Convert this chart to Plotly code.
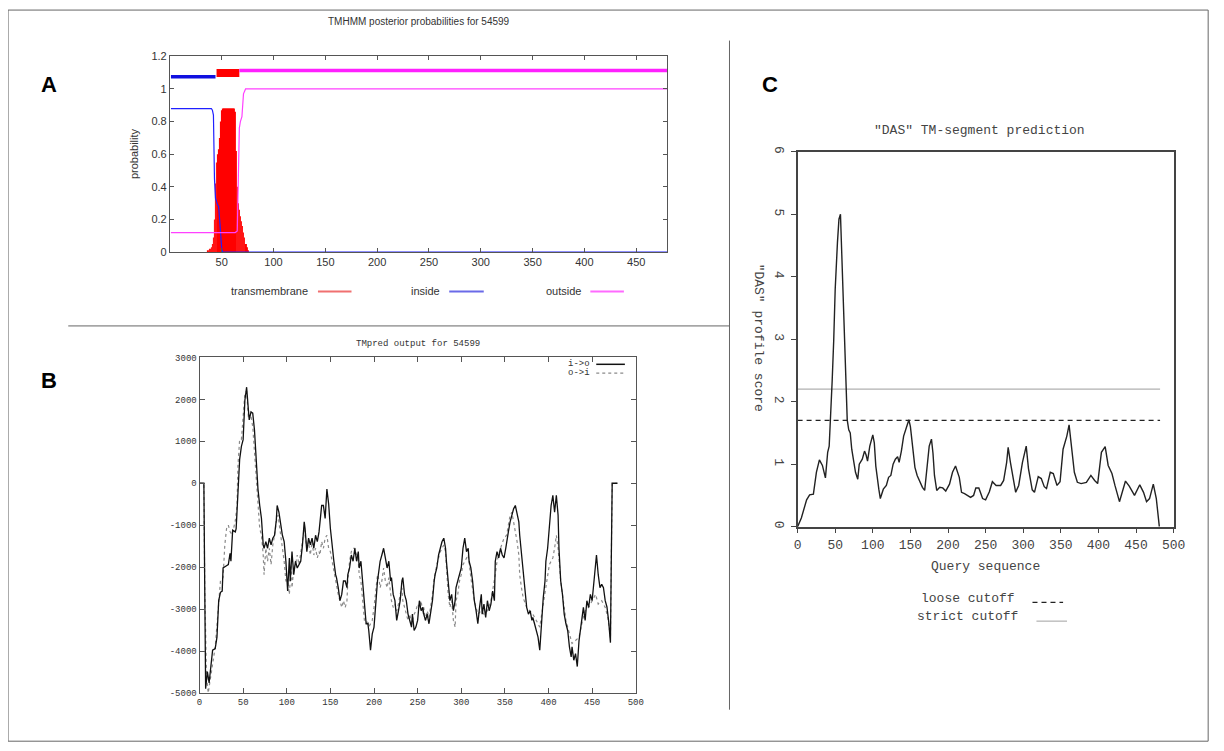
import plotly.graph_objects as go

# Figure size in pixels, used to place panels in paper coordinates
W, H = 1224, 751
OFF = 8


def px_x(p):
    return (p - OFF) / W


def px_y(p):
    return 1 - (p - OFF) / H


# ---------------- Panel A: TMHMM posterior probabilities ----------------
# Transmembrane probability per residue (drawn as impulses)
tm_res = [37, 38, 39, 40, 41, 42, 43, 44, 45, 46,
          47, 48, 49, 50, 51, 52, 53, 54, 55, 56,
          57, 58, 59, 60, 61, 62, 63, 64, 65, 66,
          67, 68, 69, 70, 71, 72, 73, 74, 75]
tm_prob = [0.01, 0.02, 0.02, 0.03, 0.05, 0.09, 0.2, 0.42, 0.55, 0.6,
           0.63, 0.7, 0.8, 0.87, 0.88, 0.88, 0.88, 0.88, 0.88, 0.88,
           0.88, 0.88, 0.88, 0.88, 0.88, 0.88, 0.86, 0.62, 0.4, 0.3,
           0.26, 0.22, 0.19, 0.16, 0.12, 0.09, 0.05, 0.03, 0.01]
# Inside probability
inside_x = [1, 40, 41, 42, 43, 44, 46, 47, 48, 49, 50, 51, 480]
inside_p = [0.88, 0.88, 0.87, 0.84, 0.45, 0.33, 0.29, 0.28, 0.2, 0.08, 0.02, 0, 0]
# Outside probability
outside_x = [1, 63, 65, 66, 67, 68, 69.5, 71, 73, 480]
outside_p = [0.12, 0.12, 0.13, 0.4, 0.76, 0.8, 0.83, 0.97, 1.0, 1.0]
# Predicted topology segments shown above the curves
topo_start = [1, 45, 67]
topo_end = [44, 67, 480]
topo_type = ["inside", "TMhelix", "outside"]

# ---------------- Panel B: TMpred profiles ----------------
io_x = [0, 5, 6, 7, 9, 11, 13, 15, 18, 20,
        22, 24, 26, 27, 30, 33, 35, 36, 38, 41,
        42, 44, 46, 48, 50, 52, 54, 56, 57, 59,
        61, 63, 65, 67, 69, 71, 73, 74, 76, 78,
        80, 82, 84, 86, 88, 89, 91, 93, 95, 97,
        99, 101, 103, 104, 106, 108, 110, 112, 114, 116,
        118, 120, 121, 123, 125, 127, 129, 131, 133, 135,
        137, 138, 140, 142, 144, 146, 148, 150, 152, 154,
        156, 157, 159, 161, 163, 165, 167, 169, 170, 172,
        174, 176, 178, 180, 182, 183, 185, 187, 189, 191,
        193, 194, 196, 198, 200, 202, 204, 206, 207, 209,
        211, 213, 215, 217, 219, 220, 222, 224, 226, 228,
        230, 232, 233, 235, 237, 239, 241, 243, 244, 246,
        248, 250, 252, 254, 256, 257, 259, 261, 263, 265,
        267, 269, 270, 272, 274, 276, 278, 280, 282, 283,
        285, 287, 289, 291, 293, 294, 296, 298, 300, 302,
        304, 306, 308, 309, 311, 313, 315, 317, 319, 321,
        323, 324, 326, 328, 330, 332, 334, 336, 338, 339,
        341, 343, 345, 347, 349, 351, 352, 354, 356, 358,
        360, 362, 364, 366, 367, 369, 371, 373, 375, 377,
        379, 381, 382, 384, 386, 388, 390, 392, 394, 396,
        397, 399, 401, 403, 405, 407, 409, 411, 412, 414,
        416, 418, 420, 422, 424, 426, 427, 429, 431, 433,
        435, 437, 439, 440, 442, 444, 446, 448, 450, 452,
        454, 455, 457, 459, 461, 463, 465, 467, 469, 471,
        472, 473, 479]
io_y = [0, 0, -2500, -4900, -4490, -4760, -4370, -3980, -3940, -3670,
        -2800, -2600, -2570, -2020, -1980, -1940, -1670, -1860, -1120, -1160,
        -1080, -140, 570, 880, 1040, 1980, 2290, 1750, 1510, 1700,
        1670, 1270, 570, -140, -530, -840, -1470, -1550, -1390, -1550,
        -1310, -1470, -1310, -1240, -880, -530, -690, -1000, -1240, -1390,
        -1860, -2570, -1780, -2330, -1630, -2180, -1860, -2020, -1940, -1860,
        -1470, -920, -1080, -1630, -1310, -1470, -1310, -1550, -1240, -1390,
        -1160, -920, -530, -530, -840, -140, -490, -1080, -1550, -1860,
        -2180, -2250, -2490, -2800, -2650, -2330, -2330, -2490, -2180, -2020,
        -1710, -1860, -1550, -1860, -1630, -2020, -1860, -2330, -2960, -3350,
        -3350, -3510, -3980, -3590, -3430, -2800, -2330, -2020, -1860, -1710,
        -1550, -1780, -2020, -1860, -2330, -2250, -2650, -2800, -3270, -3040,
        -2800, -2330, -2250, -2650, -2800, -3120, -3270, -3430, -3120, -3510,
        -3430, -3270, -2800, -3040, -2960, -3120, -3270, -3120, -3350, -3120,
        -2800, -2330, -2180, -2020, -1710, -1550, -1390, -1310, -1550, -1860,
        -2330, -2800, -2650, -3040, -2800, -2490, -2330, -2180, -2020, -1550,
        -1310, -1630, -1550, -1860, -2020, -2330, -2800, -3040, -3350, -2960,
        -2650, -3120, -2880, -3200, -2800, -3040, -2880, -2570, -2800, -1860,
        -1630, -1780, -1550, -1710, -1780, -1550, -1390, -1160, -920, -760,
        -610, -530, -760, -920, -1240, -1710, -2180, -2490, -2960, -3120,
        -3040, -3270, -3200, -3350, -3510, -3670, -3980, -3270, -2730, -2330,
        -1860, -1550, -1000, -530, -290, -690, -290, -760, -1550, -2330,
        -2650, -3120, -3350, -3510, -3900, -4140, -3900, -4220, -4060, -4370,
        -3750, -3430, -3120, -2960, -3270, -2800, -2960, -2650, -2800, -2330,
        -1940, -1710, -2180, -2490, -2410, -2490, -2800, -2950, -3300, -3800,
        -1800, 0, 0]
oi_x = [0, 5, 6, 8, 10, 12, 14, 16, 18, 21,
        24, 27, 29, 31, 33, 35, 37, 39, 41, 43,
        44, 46, 48, 50, 52, 54, 56, 58, 59, 61,
        63, 65, 67, 69, 71, 73, 74, 76, 78, 80,
        82, 84, 86, 88, 90, 91, 93, 95, 97, 99,
        101, 103, 105, 106, 108, 110, 112, 114, 116, 118,
        120, 121, 123, 125, 127, 129, 131, 133, 135, 137,
        138, 140, 142, 144, 146, 148, 150, 152, 156, 159,
        163, 165, 167, 169, 170, 172, 174, 176, 178, 180,
        182, 183, 185, 187, 189, 191, 193, 194, 196, 198,
        200, 202, 204, 206, 207, 209, 211, 213, 215, 217,
        219, 220, 222, 224, 226, 228, 230, 232, 233, 235,
        237, 239, 241, 243, 244, 246, 248, 250, 252, 254,
        256, 257, 259, 261, 263, 265, 267, 269, 270, 272,
        274, 276, 278, 280, 282, 283, 285, 287, 289, 291,
        293, 294, 296, 298, 300, 302, 304, 308, 311, 315,
        319, 323, 326, 330, 334, 338, 339, 341, 345, 349,
        352, 354, 356, 358, 360, 362, 364, 366, 367, 369,
        371, 375, 379, 382, 386, 390, 394, 397, 401, 403,
        405, 407, 409, 411, 412, 414, 416, 420, 424, 427,
        431, 435, 439, 442, 446, 450, 454, 457, 461, 465,
        468, 470, 471, 472, 473, 479]
oi_y = [0, 0, -2500, -4600, -5000, -4700, -4450, -4200, -3900, -3120,
        -2330, -2250, -1470, -1080, -1000, -1150, -1230, -1080, -900, -530,
        410, 1040, 1040, 1590, 2140, 2200, 1590, 1590, 1590, 1350,
        800, 250, -370, -1080, -1240, -1710, -2180, -1550, -1860, -1550,
        -1940, -1470, -1240, -920, -760, -920, -1240, -1550, -1860, -2330,
        -2330, -2650, -1940, -2490, -2020, -1940, -1710, -1940, -1710, -1390,
        -1080, -1240, -1550, -1390, -1710, -1390, -1710, -1550, -1780, -1630,
        -1710, -1390, -1550, -1310, -1240, -1550, -1630, -1860, -2330, -2650,
        -2960, -2800, -2960, -2800, -2330, -1860, -1630, -1550, -1550, -1710,
        -1860, -2180, -2330, -2800, -3270, -3350, -3270, -3430, -3350, -3270,
        -2960, -2490, -2180, -2330, -2490, -2330, -2020, -2330, -2490, -2250,
        -2650, -2800, -2960, -2880, -3040, -2880, -2650, -2490, -2800, -2960,
        -3120, -3270, -3120, -3350, -3270, -3120, -3040, -2880, -2960, -2800,
        -3120, -2960, -3270, -3040, -3200, -2960, -2650, -2250, -2180, -1940,
        -1780, -1630, -1550, -1470, -1630, -2020, -2650, -2960, -2800, -3270,
        -3430, -2800, -2650, -2330, -2180, -1940, -1860, -1710, -2250, -2800,
        -3120, -3040, -3120, -3040, -2800, -2330, -2180, -1860, -1550, -1310,
        -1240, -1000, -760, -690, -920, -1080, -1390, -1710, -2180, -2490,
        -2730, -2960, -3040, -3120, -3270, -3430, -2880, -2490, -1940, -1860,
        -1780, -1550, -1240, -1550, -1860, -2330, -2650, -3270, -3590, -3820,
        -3750, -3670, -3270, -3040, -2960, -2800, -2650, -2880, -2800, -2960,
        -3200, -3500, -3700, -1800, 0, 0]
tm_yticks = [3000, 2000, 1000, 0, -1000, -2000, -3000, -4000, -5000]

# ---------------- Panel C: DAS profile ----------------
das_x = [0, 5, 12, 16, 21, 25, 29, 33, 37, 40,
         42, 44, 46, 48, 50, 53, 55, 57, 59, 61,
         64, 66, 68, 70, 72, 75, 77, 80, 82, 86,
         89, 91, 93, 96, 98, 100, 102, 104, 108, 110,
         114, 118, 121, 124, 127, 130, 133, 135, 138, 141,
         145, 148, 150, 153, 156, 159, 162, 166, 169, 172,
         175, 178, 180, 182, 185, 189, 193, 197, 202, 206,
         210, 215, 218, 222, 226, 230, 234, 237, 241, 246,
         250, 255, 259, 264, 270, 274, 278, 280, 283, 287,
         290, 294, 299, 304, 307, 312, 315, 320, 324, 328,
         331, 336, 340, 345, 349, 353, 358, 361, 364, 368,
         372, 377, 384, 390, 395, 399, 404, 409, 413, 418,
         422, 426, 428, 436, 441, 448, 455, 460, 464, 468,
         473, 477, 479, 481]
das_score = [0, 0.14, 0.43, 0.51, 0.52, 0.87, 1.07, 0.98, 0.78, 1.19,
             1.29, 1.71, 2.34, 2.97, 3.8, 4.55, 4.92, 5.0, 4.3, 3.4,
             2.45, 1.71, 1.55, 1.5, 1.24, 1.0, 0.87, 0.76, 1.0, 1.08,
             1.21, 1.15, 1.05, 1.29, 1.39, 1.47, 1.34, 0.97, 0.6, 0.45,
             0.6, 0.66, 0.79, 0.82, 1.0, 1.08, 1.12, 1.03, 1.21, 1.45,
             1.6, 1.71, 1.6, 1.29, 0.95, 0.82, 0.74, 0.63, 0.58, 0.92,
             1.29, 1.4, 1.18, 0.82, 0.58, 0.63, 0.62, 0.57, 0.68, 0.87,
             0.97, 0.79, 0.55, 0.53, 0.5, 0.47, 0.5, 0.62, 0.62, 0.45,
             0.43, 0.56, 0.72, 0.66, 0.66, 0.74, 1.03, 1.27, 1.03, 0.72,
             0.55, 0.66, 1.03, 1.29, 0.93, 0.59, 0.55, 0.8, 0.77, 0.64,
             0.61, 0.87, 0.85, 0.66, 0.72, 1.24, 1.45, 1.63, 1.29, 0.87,
             0.71, 0.69, 0.71, 0.82, 0.74, 0.69, 1.19, 1.28, 0.98, 0.85,
             0.66, 0.46, 0.4, 0.73, 0.65, 0.5, 0.67, 0.55, 0.4, 0.45,
             0.68, 0.45, 0.25, 0]
loose_cutoff = 1.7
strict_cutoff = 2.2
cutoff_span = [0, 482]

assert len(io_x) == len(io_y) and len(oi_x) == len(oi_y)
assert len(das_x) == len(das_score) and len(tm_res) == len(tm_prob)

fig = go.Figure()

# Panel A traces
fig.add_trace(go.Bar(x=tm_res, y=tm_prob, width=0.7, marker=dict(color="#ff0000", line=dict(width=0)),
                     xaxis="x", yaxis="y"))
fig.add_trace(go.Scatter(x=inside_x, y=inside_p, mode="lines", line=dict(color="#2020ff", width=1.2),
                         xaxis="x", yaxis="y"))
fig.add_trace(go.Scatter(x=outside_x, y=outside_p, mode="lines", line=dict(color="#ff40ff", width=1.2),
                         xaxis="x", yaxis="y"))
# topology bars above the curves
topo_style = {"inside": ("#1010e0", 1.075, 3.5), "TMhelix": ("#ff0000", 1.097, 8), "outside": ("#ff20ff", 1.113, 3.5)}
for s, e, t in zip(topo_start, topo_end, topo_type):
    col, lvl, wid = topo_style[t]
    fig.add_trace(go.Scatter(x=[s, e], y=[lvl, lvl], mode="lines", line=dict(color=col, width=wid),
                             xaxis="x", yaxis="y"))

# Panel B traces
fig.add_trace(go.Scatter(x=oi_x, y=oi_y, mode="lines", line=dict(color="#8a8a8a", width=1.2, dash="dot"),
                         xaxis="x2", yaxis="y2"))
fig.add_trace(go.Scatter(x=io_x, y=io_y, mode="lines", line=dict(color="#111111", width=1.3),
                         xaxis="x2", yaxis="y2"))

# Panel C traces
fig.add_trace(go.Scatter(x=cutoff_span, y=[strict_cutoff, strict_cutoff], mode="lines",
                         line=dict(color="#b0b0b0", width=1.2), xaxis="x3", yaxis="y3"))
fig.add_trace(go.Scatter(x=cutoff_span, y=[loose_cutoff, loose_cutoff], mode="lines",
                         line=dict(color="#222222", width=1.3, dash="5px,4px"), xaxis="x3", yaxis="y3"))
fig.add_trace(go.Scatter(x=das_x, y=das_score, mode="lines", line=dict(color="#222222", width=1.4),
                         xaxis="x3", yaxis="y3"))

sans = "Liberation Sans, Arial, sans-serif"
mono = "Liberation Mono, Courier New, monospace"

axis_a = dict(showgrid=False, zeroline=False, showline=True, linecolor="#555", linewidth=1,
              mirror="ticks", ticks="inside", ticklen=4, tickcolor="#555",
              tickfont=dict(family=sans, size=11, color="#333"))
axis_b = dict(showgrid=False, zeroline=False, showline=True, linecolor="#555", linewidth=1,
              mirror="ticks", ticks="inside", ticklen=5, tickcolor="#555",
              tickfont=dict(family=mono, size=9, color="#333"))
axis_c = dict(showgrid=False, zeroline=False, showline=True, linecolor="#444", linewidth=1.5,
              mirror=True, ticks="outside", ticklen=5, tickcolor="#444",
              tickfont=dict(family=mono, size=13, color="#444"))

fig.update_layout(
    width=W, height=H,
    margin=dict(l=0, r=0, t=0, b=0),
    paper_bgcolor="white", plot_bgcolor="white",
    showlegend=False,
    xaxis=dict(axis_a, domain=[px_x(168), px_x(672)], range=[0, 480],
               tickvals=[50, 100, 150, 200, 250, 300, 350, 400, 450], anchor="y"),
    yaxis=dict(axis_a, domain=[px_y(250), px_y(51)], range=[0, 1.2], dtick=0.2, anchor="x"),
    xaxis2=dict(axis_b, domain=[px_x(198), px_x(640)], range=[0, 500], dtick=50, anchor="y2"),
    yaxis2=dict(axis_b, domain=[px_y(698), px_y(357)], range=[-5000, 3000], anchor="x2",
                tickvals=tm_yticks, ticktext=[str(v) for v in tm_yticks]),
    xaxis3=dict(axis_c, domain=[px_x(804), px_x(1185)], range=[0, 500], dtick=50, anchor="y3"),
    yaxis3=dict(axis_c, domain=[px_y(529), px_y(148)], range=[0, 6], dtick=1, tickangle=90, anchor="x3"),
)

annotations = [
    # panel letters
    dict(text="<b>A</b>", x=px_x(45), y=px_y(80), font=dict(family=sans, size=22, color="black")),
    dict(text="<b>B</b>", x=px_x(45), y=px_y(380), font=dict(family=sans, size=22, color="black")),
    dict(text="<b>C</b>", x=px_x(776), y=px_y(80), font=dict(family=sans, size=22, color="black")),
    # panel A texts
    dict(text="TMHMM posterior probabilities for 54599", x=px_x(420), y=px_y(16),
         font=dict(family=sans, size=10, color="#333")),
    dict(text="probability", x=px_x(131), y=px_y(150), textangle=-90,
         font=dict(family=sans, size=11, color="#333")),
    dict(text="transmembrane", x=px_x(310), y=px_y(290), xanchor="right",
         font=dict(family=sans, size=11, color="#333")),
    dict(text="inside", x=px_x(444), y=px_y(290), xanchor="right",
         font=dict(family=sans, size=11, color="#333")),
    dict(text="outside", x=px_x(587), y=px_y(290), xanchor="right",
         font=dict(family=sans, size=11, color="#333")),
    # panel B texts
    dict(text="TMpred output for 54599", x=px_x(419), y=px_y(343),
         font=dict(family=mono, size=9, color="#333")),
    dict(text="i->o", x=px_x(596), y=px_y(364), xanchor="right",
         font=dict(family=mono, size=9, color="#333")),
    dict(text="o->i", x=px_x(596), y=px_y(373), xanchor="right",
         font=dict(family=mono, size=9, color="#333")),
    # panel C texts
    dict(text='"DAS" TM-segment prediction', x=px_x(988), y=px_y(126),
         font=dict(family=mono, size=13, color="#444")),
    dict(text='"DAS" profile score', x=px_x(764), y=px_y(337), textangle=90,
         font=dict(family=mono, size=13, color="#444")),
    dict(text="Query sequence", x=px_x(994), y=px_y(569),
         font=dict(family=mono, size=13, color="#444")),
    dict(text="loose cutoff", x=px_x(977), y=px_y(602),
         font=dict(family=mono, size=13, color="#444")),
    dict(text="strict cutoff", x=px_x(976), y=px_y(620),
         font=dict(family=mono, size=13, color="#444")),
]
for a in annotations:
    a.setdefault("xanchor", "center")
    a.update(xref="paper", yref="paper", yanchor="middle", showarrow=False)
fig.update_layout(annotations=annotations)

shapes = [
    # outer frame and separators
    dict(type="rect", x0=px_x(4), x1=px_x(1220), y0=px_y(747), y1=px_y(4), line=dict(color="#666", width=1)),
    dict(type="line", x0=px_x(65), x1=px_x(735), y0=px_y(325), y1=px_y(325), line=dict(color="#666", width=1)),
    dict(type="line", x0=px_x(735), x1=px_x(735), y0=px_y(35), y1=px_y(715), line=dict(color="#666", width=1)),
    # legend samples panel A
    dict(type="line", x0=px_x(318), x1=px_x(352), y0=px_y(290), y1=px_y(290), line=dict(color="#f07070", width=2)),
    dict(type="line", x0=px_x(451), x1=px_x(486), y0=px_y(290), y1=px_y(290), line=dict(color="#6a6ae8", width=2)),
    dict(type="line", x0=px_x(594), x1=px_x(628), y0=px_y(290), y1=px_y(290), line=dict(color="#ff6aff", width=2)),
    # legend samples panel B
    dict(type="line", x0=px_x(600), x1=px_x(629), y0=px_y(364), y1=px_y(364), line=dict(color="#111", width=1.5)),
    dict(type="line", x0=px_x(600), x1=px_x(629), y0=px_y(373), y1=px_y(373),
         line=dict(color="#8a8a8a", width=1.2, dash="dot")),
    # legend samples panel C
    dict(type="line", x0=px_x(1042), x1=px_x(1073), y0=px_y(606), y1=px_y(606),
         line=dict(color="#222", width=1.3, dash="5px,4px")),
    dict(type="line", x0=px_x(1046), x1=px_x(1077), y0=px_y(625), y1=px_y(625), line=dict(color="#b0b0b0", width=1.2)),
]
for s in shapes:
    s.update(xref="paper", yref="paper")
fig.update_layout(shapes=shapes)

fig.write_html("out.html")
